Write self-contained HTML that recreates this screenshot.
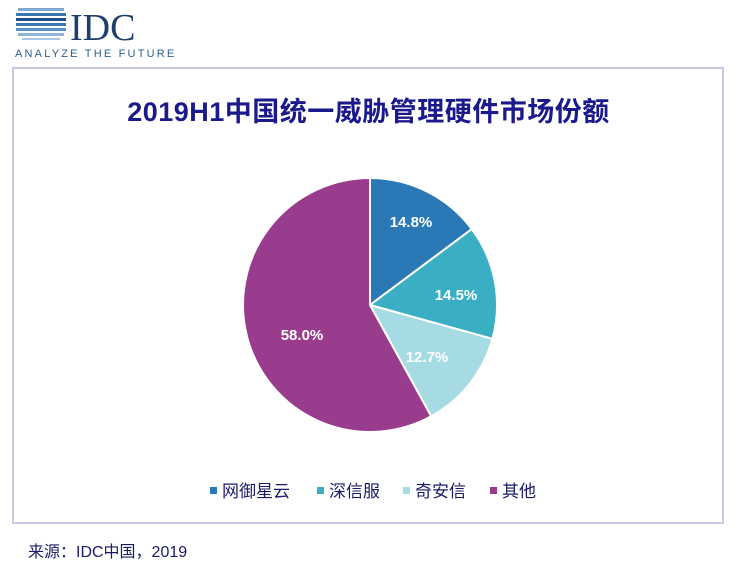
<!DOCTYPE html>
<html><head><meta charset="utf-8"><style>
body{margin:0;width:737px;height:565px;background:#fff;font-family:"Liberation Sans","Noto Sans CJK SC",sans-serif;position:relative;overflow:hidden}
.frame{position:absolute;left:12px;top:67px;width:708px;height:453px;border:2px solid #c9c9e3}
.t{position:absolute;left:0;width:737px;top:90px;text-align:center;font-size:27px;font-weight:bold;color:#1a1a8c;letter-spacing:0.5px}
.src{position:absolute;left:28px;top:538px;font-size:16px;color:#1a1a6a}
</style></head><body>
<svg width="737" height="565" style="position:absolute;left:0;top:0">
<g fill="#3a78b0">
<rect x="18" y="8" width="46" height="3" fill="#7fa7cf"/>
<rect x="16" y="13" width="50" height="3"/>
<rect x="16" y="18" width="50" height="3" fill="#1d4f8a"/>
<rect x="16" y="23" width="50" height="3"/>
<rect x="16" y="28" width="50" height="3" fill="#5d93c6"/>
<rect x="18" y="33" width="46" height="3" fill="#8fb5da"/>
<rect x="22" y="38" width="38" height="2" fill="#a9c6e3"/>
</g>
<text x="70" y="40" font-family="Liberation Serif,serif" font-size="38" fill="#1d3f6e">IDC</text>
<text x="15" y="57" font-size="11" letter-spacing="2.2" fill="#2a5f8f">ANALYZE THE FUTURE</text>
<g stroke="#fff" stroke-width="2">
<path d="M370,305 L370,178 A127,127 0 0 1 471.8,229.1 Z" fill="#2a78b6"/>
<path d="M370,305 L471.8,229.1 A127,127 0 0 1 492.4,338.9 Z" fill="#3aafc4"/>
<path d="M370,305 L492.4,338.9 A127,127 0 0 1 431.2,416.3 Z" fill="#a7dbe4"/>
<path d="M370,305 L431.2,416.3 A127,127 0 1 1 370,178 Z" fill="#9a3c8e"/>
</g>
<g font-size="15" font-weight="bold" fill="#fff" text-anchor="middle">
<text x="411" y="227">14.8%</text>
<text x="456" y="300">14.5%</text>
<text x="427" y="362">12.7%</text>
<text x="302" y="340">58.0%</text>
</g>
<g font-size="17" fill="#1a1a6a">
<rect x="210" y="487" width="7" height="7" fill="#2a78b6"/><text x="222" y="497">网御星云</text>
<rect x="317" y="487" width="7" height="7" fill="#3aafc4"/><text x="329" y="497">深信服</text>
<rect x="403" y="487" width="7" height="7" fill="#a7dbe4"/><text x="415" y="497">奇安信</text>
<rect x="490" y="487" width="7" height="7" fill="#9a3c8e"/><text x="502" y="497">其他</text>
</g>
</svg>
<div class="frame"></div>
<div class="t">2019H1中国统一威胁管理硬件市场份额</div>
<div class="src">来源：IDC中国，2019</div>
</body></html>
